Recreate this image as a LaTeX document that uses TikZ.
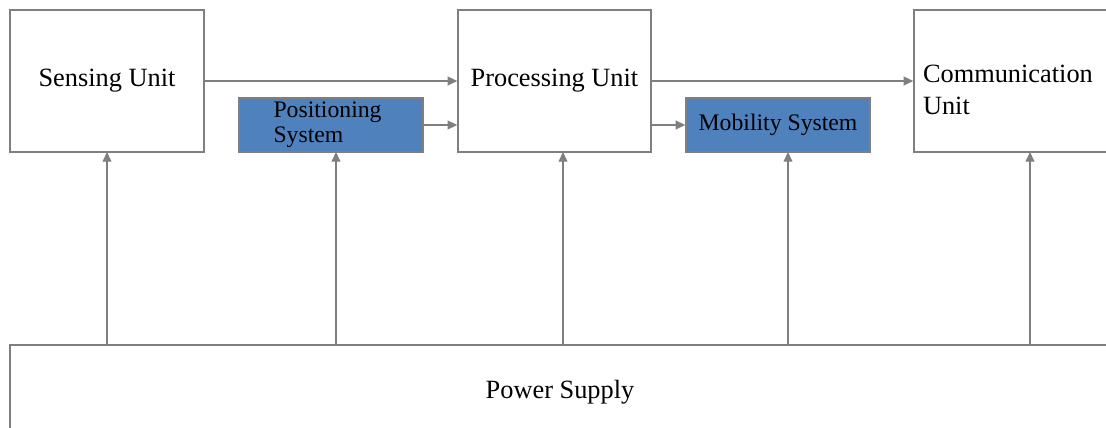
\documentclass[tikz,border=0pt]{standalone}
\usepackage{fontspec}
\setmainfont{Liberation Serif}
\usetikzlibrary{arrows.meta,shadows}

\definecolor{linegray}{HTML}{7F7F7F}
\definecolor{boxblue}{HTML}{4F81BD}

\tikzset{
  unitbox/.style={draw=linegray, line width=0.8pt, fill=white, minimum width=3.88cm, minimum height=2.84cm,
    inner sep=2pt, font=\fontsize{15}{18}\selectfont,
    drop shadow={shadow xshift=0.6pt, shadow yshift=-0.6pt, fill=black!12}},
  subbox/.style={draw=linegray, line width=0.8pt, fill=boxblue, minimum width=3.68cm, minimum height=1.08cm,
    inner sep=1pt, font=\fontsize{13.5}{16}\selectfont,
    drop shadow={shadow xshift=0.6pt, shadow yshift=-0.6pt, fill=black!12}},
  link/.style={draw=linegray, line width=0.7pt, -{Triangle[length=5.5pt,width=5pt]}}
}

\begin{document}
\begin{tikzpicture}[x=0.02cm, y=-0.02cm]
  \useasboundingbox (0,0) rectangle (1106,428);
  \fill[white] (0,0) rectangle (1106,428);

  % units
  \node[unitbox] (sens) at (107,81) {Sensing Unit};
  \node[subbox, align=left, text width=2.3cm] (pos) at (331,125) {Positioning\\[-2pt]System};
  \node[unitbox, minimum width=3.86cm] (proc) at (554.5,81) {Processing Unit};
  \node[subbox] (mob) at (778,125) {Mobility System};
  \node[unitbox, minimum width=3.92cm, align=left, text width=3.56cm] (comm) at (1012,81) {\rule{0pt}{20pt}Communication\\Unit};
  \node[unitbox, minimum width=22cm, minimum height=1.9cm] (ps) at (560,392.5) {Power Supply};

  % data flow
  \draw[link] (sens.east) -- (proc.west);
  \draw[link] (pos.east) -- (proc.west |- pos.east);
  \draw[link] (proc.east) -- (comm.west);
  \draw[link] (proc.east |- mob.west) -- (mob.west);

  % power lines
  \coordinate (s1) at (107,152);
  \coordinate (s2) at (336,152);
  \coordinate (s3) at (563,152);
  \coordinate (s4) at (788,152);
  \coordinate (s5) at (1030,152);
  \foreach \c in {s1,s2,s3,s4,s5}
    \draw[link] (ps.north -| \c) -- (\c);
\end{tikzpicture}
\end{document}
